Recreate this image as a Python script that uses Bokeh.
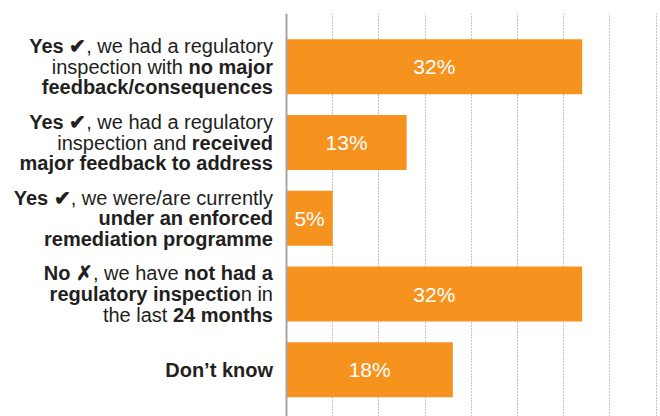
import re
from bokeh.plotting import figure
from bokeh.models import Range1d, FixedTicker, Span, ColumnDataSource, LabelSet
from bokeh.core.properties import value
from bokeh.embed import file_html
from bokeh.resources import INLINE

# ---------------- data ----------------
categories = [
    "**Yes ✔**, we had a regulatory\ninspection with **no major**\n**feedback/consequences**",
    "**Yes ✔**, we had a regulatory\ninspection and **received**\n**major feedback to address**",
    "**Yes ✔**, we were/are currently\n**under an enforced**\n**remediation programme**",
    "**No ✗**, we have **not had a**\n**regulatory inspectio**n in\nthe last **24 months**",
    "**Don’t know**",
]
values = [32, 13, 5, 32, 18]
value_labels = ["32%", "13%", "5%", "32%", "18%"]
grid_ticks = [5, 10, 15, 20, 25, 30, 35, 40]

# ---------------- styling ----------------
FONT = "Liberation Sans"
LABEL_SIZE = 20.0
LINE_H = 20.6
BAR_COLOR = "#f6921e"
TEXT_COLOR = "#231f20"

# Arial / Liberation Sans advance widths (per 1000 em)
def _tbl(groups):
    d = {}
    for w, chars in groups.items():
        for c in chars:
            d[c] = w
    return d

REG = _tbl({
    278: " ,./:;!ftI", 222: "ijl’", 191: "'", 333: "r-()", 500: "cksvxyzJ",
    556: "abdeghnopquL0123456789", 722: "wCDHNRU", 833: "mM", 889: "%",
    667: "ABEKPSVXY", 611: "FTZ", 778: "GOQ", 944: "W", 840: "✓✔✗",
})
BOLD = _tbl({
    278: " ,./:;!iljI’", 238: "'", 333: "tf-()", 389: "r", 556: "acesvxykJ0123456789",
    611: "bdghnopquFLTZ", 500: "z", 722: "ADBCHKNRU", 778: "wGOQ", 889: "m%",
    833: "M", 667: "EPSVXY", 944: "W", 840: "✓✔✗",
})

def text_width(s, bold):
    t = BOLD if bold else REG
    return sum(t.get(c, 556) for c in s) * LABEL_SIZE / 1000.0

# ---------------- figure ----------------
n = len(categories)
idx = list(range(n))
PX_PER_X = 9.24           # px per percentage point
AXIS_PX = 286             # px from figure left edge to the 0 line
FIG_W, FIG_H = 660, 416
TOP_BORDER = 13
PX_PER_UNIT = 75.75
FRAME_TOP_PAD = 53.3      # px from frame top to first bar centre
FRAME_H = FIG_H - TOP_BORDER
y_top = -FRAME_TOP_PAD / PX_PER_UNIT
y_bottom = y_top + FRAME_H / PX_PER_UNIT
x_start = -AXIS_PX / PX_PER_X
x_end = (FIG_W - AXIS_PX) / PX_PER_X

p = figure(width=FIG_W, height=FIG_H, output_backend="svg", toolbar_location=None,
           x_range=Range1d(x_start, x_end), y_range=Range1d(y_bottom, y_top),
           min_border_left=0, min_border_right=0, min_border_top=TOP_BORDER,
           min_border_bottom=0)
p.xaxis.visible = False
p.yaxis.visible = False
p.outline_line_color = None
p.ygrid.grid_line_color = None
p.xgrid.ticker = FixedTicker(ticks=grid_ticks)
p.xgrid.grid_line_color = "#8f8984"
p.xgrid.grid_line_dash = "1 2"
p.xgrid.grid_line_width = 1

p.hbar(y=idx, left=0, right=values, height=0.726, fill_color=BAR_COLOR, line_color=None)

p.add_layout(Span(location=0, dimension="height", line_color="#aaa39e", line_width=2))

# value labels
vsrc = ColumnDataSource(dict(x=[v / 2 for v in values], y=idx, text=value_labels))
p.add_layout(LabelSet(x="x", y="y", text="text", source=vsrc, text_align="center",
                      text_baseline="middle", text_color="white", text_font=value(FONT),
                      text_font_size="21px"))

# category labels with mixed bold / regular segments
GAP = 13.5
segs = {True: dict(x=[], y=[], text=[], xo=[]), False: dict(x=[], y=[], text=[], xo=[])}
for i, cat in enumerate(categories):
    lines = cat.split("\n")
    nl = len(lines)
    for k, line in enumerate(lines):
        parts = re.split(r"(\*\*[^*]+\*\*)", line)
        pieces = []
        for part in parts:
            if not part:
                continue
            if part.startswith("**"):
                pieces.append((part[2:-2], True))
            else:
                pieces.append((part, False))
        yk = i + (k - (nl - 1) / 2.0) * LINE_H / PX_PER_UNIT
        cursor = GAP
        for s, b in reversed(pieces):
            d = segs[b]
            d["x"].append(0)
            d["y"].append(yk)
            d["text"].append(s)
            d["xo"].append(-cursor)
            cursor += text_width(s, b)

for b, d in segs.items():
    src = ColumnDataSource(d)
    p.add_layout(LabelSet(x="x", y="y", text="text", x_offset="xo", source=src,
                          text_align="right", text_baseline="middle",
                          text_color=TEXT_COLOR, text_font=value(FONT),
                          text_font_size=f"{LABEL_SIZE}px",
                          text_font_style=value("bold" if b else "normal")))

open("out.html", "w").write(file_html(p, INLINE))
